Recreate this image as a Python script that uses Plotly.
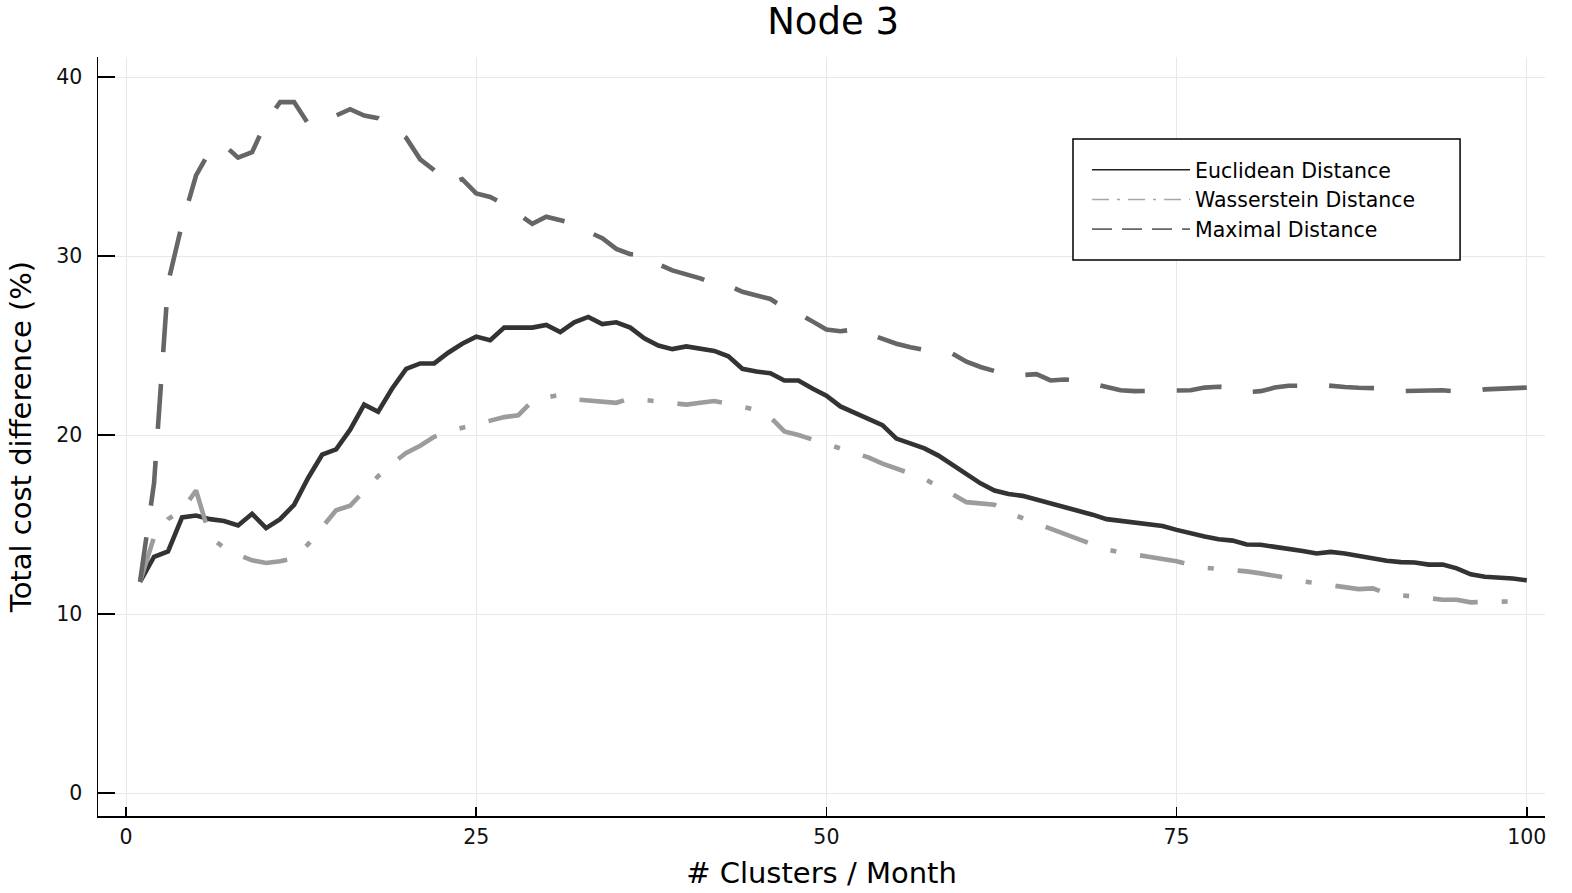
import plotly.graph_objects as go

clusters = list(range(1, 101))

euclidean = [
    11.8, 13.2, 13.5, 15.4, 15.5, 15.3, 15.2, 14.95, 15.6, 14.8,
    15.3, 16.1, 17.6, 18.9, 19.2, 20.3, 21.7, 21.3, 22.6, 23.7,
    24.0, 24.0, 24.6, 25.1, 25.5, 25.3, 26.0, 26.0, 26.0, 26.15,
    25.75, 26.3, 26.6, 26.2, 26.3, 26.0, 25.4, 25.0, 24.8, 24.95,
    24.85, 24.7, 24.4, 23.7, 23.55, 23.45, 23.05, 23.05, 22.6, 22.2,
    21.6, 21.25, 20.95, 20.55, 19.8, 19.5, 19.25, 18.85, 18.35, 17.85,
    17.3, 16.9, 16.7, 16.6, 16.4, 16.15, 15.95, 15.75, 15.55, 15.3,
    15.22, 15.1, 15.05, 14.92, 14.7, 14.5, 14.33, 14.18, 14.1, 13.88,
    13.87, 13.75, 13.66, 13.52, 13.38, 13.47, 13.38, 13.23, 13.1, 12.98,
    12.9, 12.88, 12.76, 12.77, 12.55, 12.22, 12.08, 12.06, 11.98, 11.88,
]

wasserstein = [
    11.8, 14.3, 15.3, 15.8, 16.9, 14.3, 13.7, 13.3, 13.0, 12.85,
    12.95, 13.1, 13.9, 14.9, 15.8, 16.05, 16.9, 17.7, 18.4, 19.0,
    19.4, 19.9, 20.2, 20.4, 20.6, 20.8, 21.0, 21.1, 21.9, 22.1,
    22.25, 22.0, 21.95, 21.9, 21.8, 22.05, 21.95, 21.85, 21.8, 21.7,
    21.8, 21.9, 21.75, 21.6, 21.4, 21.0, 20.2, 20.0, 19.75, 19.5,
    19.3, 19.0, 18.75, 18.4, 18.15, 17.85, 17.55, 17.15, 16.7, 16.25,
    16.15, 16.1, 15.65, 15.35, 15.1, 14.8, 14.45, 14.15, 13.85, 13.6,
    13.45, 13.3, 13.2, 13.07, 12.95, 12.75, 12.58, 12.52, 12.46, 12.38,
    12.27, 12.15, 12.0, 11.83, 11.73, 11.63, 11.5, 11.39, 11.43, 11.15,
    11.05, 10.95, 10.85, 10.8, 10.8, 10.65, 10.68, 10.7, 10.7, 10.65,
]

maximal = [
    11.8, 17.3, 28.5, 31.8, 34.5, 35.9, 36.2, 35.5, 35.8, 37.5,
    38.6, 38.6, 37.4, 37.6, 37.85, 38.2, 37.85, 37.7, 37.2, 36.6,
    35.4, 34.8, 34.0, 34.3, 33.5, 33.3, 32.9, 32.35, 31.8, 32.2,
    32.0, 31.8, 31.35, 31.0, 30.4, 30.1, 30.1, 29.55, 29.2, 29.0,
    28.75, 28.45, 28.35, 28.0, 27.8, 27.6, 27.1, 26.8, 26.35, 25.9,
    25.8, 25.9, 25.65, 25.35, 25.1, 24.9, 24.75, 24.6, 24.55, 24.1,
    23.8, 23.6, 23.35, 23.35, 23.4, 23.05, 23.1, 23.05, 22.85, 22.65,
    22.5, 22.45, 22.45, 22.5, 22.45, 22.5, 22.65, 22.7, 22.65, 22.4,
    22.45, 22.65, 22.75, 22.75, 22.82, 22.72, 22.68, 22.64, 22.62, 22.6,
    22.45, 22.48, 22.47, 22.5, 22.43, 22.42, 22.55, 22.6, 22.6, 22.65,
]

series_names = ["Euclidean Distance", "Wasserstein Distance", "Maximal Distance"]
x_ticks = [0, 25, 50, 75, 100]
y_ticks = [0, 10, 20, 30, 40]

FONT = "DejaVu Sans"
colors = ["#333333", "#9c9c9c", "#666666"]
legend_colors = ["#222222", "#a8a8a8", "#666666"]
plot_dash = ["solid", "45px,24px,6px,24px", "45px,32px"]
legend_dash = ["solid", "17px,8px,3px,8px", "20px,10px"]

fig = go.Figure()
for name, ys, c, d in zip(series_names, [euclidean, wasserstein, maximal], colors, plot_dash):
    fig.add_trace(go.Scatter(x=clusters, y=ys, mode="lines", name=name, showlegend=False,
                             line=dict(color=c, width=4.6, dash=d)))
for name, c, d in zip(series_names, legend_colors, legend_dash):
    fig.add_trace(go.Scatter(x=[None], y=[None], mode="lines", name=name, showlegend=True,
                             line=dict(color=c, width=1.6, dash=d)))

axis_common = dict(
    showgrid=True, gridcolor="#e8e8e8", gridwidth=1,
    zeroline=False, showline=True, linecolor="black", linewidth=1.5,
    ticks="inside", tickcolor="black", tickwidth=1.5,
    tickfont=dict(family=FONT, size=20.5, color="#111111"),
    mirror=False,
)

fig.update_layout(
    width=1572, height=893,
    paper_bgcolor="white", plot_bgcolor="white",
    margin=dict(l=98, r=27, t=57, b=77, autoexpand=False),
    font=dict(family=FONT, color="black"),
    title=dict(text="Node 3", x=0.508, xref="paper", xanchor="center",
               y=0.977, yref="container", yanchor="middle",
               font=dict(family=FONT, size=37, color="black")),
    xaxis=dict(range=[-2.0, 101.3], tickvals=x_ticks, ticktext=[str(v) for v in x_ticks],
               ticklen=9, ticklabelstandoff=2,
               title=dict(text="# Clusters / Month", standoff=14,
                          font=dict(family=FONT, size=29, color="black")),
               **axis_common),
    yaxis=dict(range=[-1.285, 41.12], tickvals=y_ticks, ticktext=[str(v) for v in y_ticks],
               ticklen=17, ticklabelstandoff=10,
               title=dict(text="Total cost difference (%)", standoff=16,
                          font=dict(family=FONT, size=29, color="black")),
               **axis_common),
    legend=dict(x=0.6835, y=0.8775, xanchor="left", yanchor="top",
                bgcolor="rgba(0,0,0,0)", borderwidth=0,
                font=dict(family=FONT, size=20.5, color="black"),
                itemwidth=98, tracegroupgap=0),
    shapes=[dict(type="rect", xref="paper", yref="paper",
                 x0=0.6738, x1=0.9413, y0=0.7325, y1=0.8920,
                 line=dict(color="black", width=1.5), fillcolor="white", layer="above")],
)

fig.write_html("out.html",
               config={"displayModeBar": False, "staticPlot": True},
               post_script="document.body.style.margin='0';document.body.style.overflow='hidden';")
